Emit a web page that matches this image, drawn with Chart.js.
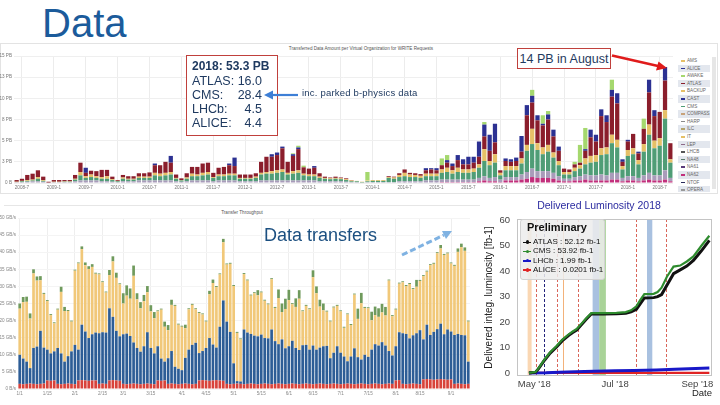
<!DOCTYPE html>
<html><head><meta charset="utf-8"><title>Data</title>
<script src="https://cdn.jsdelivr.net/npm/chart.js"></script>
<style>
html,body{margin:0;padding:0;background:#fff}
body{width:720px;height:405px;overflow:hidden;position:relative;font-family:"Liberation Sans",Arial,sans-serif}
.a{position:absolute;white-space:nowrap}
canvas{position:absolute}
</style></head><body>

<div class="a" style="left:42px;top:3px;font-size:40px;line-height:40px;color:#1b5b9b">Data</div>

<!-- top panel -->
<div class="a" style="left:0;top:43px;width:718px;height:151px;border:1px solid #e3e3e3;box-sizing:border-box"></div>
<div class="a" style="left:0;top:45.5px;width:722px;text-align:center;font-size:4.6px;line-height:5px;color:#555">Transferred Data Amount per Virtual Organization for WRITE Requests</div>
<canvas id="cTop" width="676" height="150" style="left:0;top:42px"></canvas>
<div id="topLegend" class="a" style="left:678px;top:57px;width:34px;height:135px;overflow:hidden"></div>
<div class="a" style="left:712px;top:57px;width:4px;height:132px;background:#e6e6e6"></div>

<!-- annotation box -->
<div class="a" style="left:185.5px;top:55px;width:92px;height:80.5px;border:1px solid #c0403c;box-sizing:border-box;background:#fff"></div>
<div class="a" style="left:192px;top:60px;font-size:12px;line-height:12px;font-weight:bold;color:#1f3a60">2018: 53.3 PB</div>
<div class="a" style="left:192px;top:74.5px;width:70px;display:flex;justify-content:space-between;font-size:12.5px;line-height:12.5px;color:#1f3a60"><span>ATLAS:</span><span>16.0</span></div>
<div class="a" style="left:192px;top:89px;width:70px;display:flex;justify-content:space-between;font-size:12.5px;line-height:12.5px;color:#1f3a60"><span>CMS:</span><span>28.4</span></div>
<div class="a" style="left:192px;top:103px;width:70px;display:flex;justify-content:space-between;font-size:12.5px;line-height:12.5px;color:#1f3a60"><span>LHCb:</span><span>4.5</span></div>
<div class="a" style="left:192px;top:117px;width:70px;display:flex;justify-content:space-between;font-size:12.5px;line-height:12.5px;color:#1f3a60"><span>ALICE:</span><span>4.4</span></div>
<div class="a" style="left:302px;top:88px;font-size:9.5px;line-height:9.5px;letter-spacing:0.2px;color:#1f3a60">inc. parked b-physics data</div>

<div class="a" style="left:517px;top:48px;width:94px;height:21px;border:1px solid #c0403c;box-sizing:border-box;background:#fff"></div>
<div class="a" style="left:517px;top:53px;width:94px;text-align:center;font-size:12.5px;line-height:12.5px;color:#1f3a60">14 PB in August</div>

<!-- bottom-left panel -->
<div class="a" style="left:4px;top:205px;width:476px;height:1px;background:#e6e6e6"></div>
<div class="a" style="left:0;top:210px;width:484px;text-align:center;font-size:4.6px;line-height:5px;color:#555">Transfer Throughput</div>
<canvas id="cBot" width="476" height="195" style="left:0;top:205px"></canvas>
<div class="a" style="left:264px;top:225.5px;font-size:18px;line-height:18px;color:#1b4f80">Data transfers</div>

<!-- luminosity -->
<canvas id="cLum" width="240" height="210" style="left:480px;top:195px"></canvas>
<div class="a" style="left:480px;top:200px;width:238px;text-align:center;font-size:10.5px;line-height:10.5px;color:#2b2ba0">Delivered Luminosity 2018</div>
<div class="a" style="left:520px;top:219px;width:85px;height:61px;background:rgba(236,236,236,0.86);border:1px solid #d2d2d2;border-radius:3px;box-sizing:border-box"></div>
<div class="a" style="left:527px;top:222px;font-size:11px;line-height:11px;font-weight:bold;color:#111">Preliminary</div>
<div id="lumLegend"></div>

<svg class="a" style="left:0;top:0" width="720" height="405" viewBox="0 0 720 405">
  <line x1="298" y1="95" x2="271" y2="95" stroke="#3d7fd6" stroke-width="2.2"/>
  <polygon points="264,95 273,90.5 273,99.5" fill="#3d7fd6"/>
  <line x1="612" y1="55.5" x2="658" y2="66" stroke="#e01b1b" stroke-width="2.5"/>
  <polygon points="667,68 656,70.5 658.5,61.5" fill="#e01b1b"/>
  <line x1="402" y1="255" x2="444" y2="235" stroke="#7fb2e2" stroke-width="3" stroke-dasharray="6,3"/>
  <polygon points="452,231 442,231 446,239" fill="#7fb2e2"/>
</svg>

<script>
// ---------------- TOP CHART DATA (PB per month, 2008-06 .. 2018-09) ----------------
const topStartYear = 2008, topStartMonth = 6, topMonthCount = 124;
const topXTickIdx = [1,7,13,19,25,31,37,43,49,55,61,67,73,79,85,91,97,103,109,115,121];
const topXTickLabels = ['2008-7','2009-1','2009-7','2010-1','2010-7','2011-1','2011-7','2012-1','2012-7','2013-1','2013-7','2014-1','2014-7','2015-1','2015-7','2016-1','2016-7','2017-1','2017-7','2018-1','2018-7'];
const topYTickValues = [0,2.5,5,7.5,10,12.5,15];
const topYTickLabels = ['0 B','3 PB','5 PB','8 PB','10 PB','13 PB','15 PB'];

const topNA62 = [
0,0,0,0,0,0,0,0,0,0, 0,0,0,0,0,0,0,0,0,0, 0,0,0,0,0,0,0,0,0,0, 0,0,0,0,0,0,0,0,0,0,
0,0,0,0,0,0,0,0,0,0, 0,0,0,0,0,0,0,0,0,0, 0,0,0,0,0,0,0,0,0,0, 0,0,0,0,0,0,0,0,0,0,
.1,.1,.1,.1,.1,.1,.1,.2,.3,.2, .2,.1,.3,.3,.3,.4,.5,.7,.6,.6, .6,.5,.3,.2,.2,.3,.3,.4,.3,.3,
.3,.3,.4,.4,.2,.3,.3,.2,.3,.4, .3,.3,.4,.2];
const topOther = [
.1,.1,.15,.2,.2,.15,.05,.1,.1,.1, .1,.2,.3,.3,.3,.3,.2,.2,.15,.1, .2,.2,.2,.3,.3,.3,.3,.3,.3,.3,
.2,.15,.2,.3,.3,.3,.3,.2,.3,.3, .3,.3,.2,.2,.2,.2,.3,.3,.3,.3, .3,.3,.3,.3,.3,.3,.3,.2,.2,.2,
.2,.2,.15,.1,.1,.05,.1,.1,.1,.1, .1,.1,.2,.2,.2,.2,.2,.3,.3,.3, .3,.3,.3,.3,.3,.3,.3,.4,.5,.4,
.5,.3,.4,.4,.4,.6,.8,1.0,.8,.8, .8,.7,.5,.3,.3,.4,.5,.6,.6,.6, .7,.6,.8,.8,.4,.5,.5,.4,.6,.8,
.6,.6,1.1,.4];
const topCMS = [
0,.1,.1,.1,.3,.1,0,0,0,.05, .05,.2,.6,.3,.4,.3,.3,.3,.2,.1, .3,.2,.2,.3,.3,.3,.6,.5,.6,.7,
.3,.15,.3,.5,.5,.6,.7,.4,.5,.5, .6,.6,.3,.3,.3,.4,.7,.8,.8,.9, 1.0,.7,.8,.9,.6,.5,.5,.4,.3,.25,
.3,.25,.2,.1,.1,.05,.1,.15,.15,.15, .5,.4,.5,.6,.5,.5,.4,.5,.5,.5, .8,.9,.7,.9,.8,.8,.9,1.2,1.8,1.5,
1.7,.5,.8,.8,.8,1.3,2.5,2.9,2.5,2.0, 2.3,1.8,1.3,.5,.5,.7,.9,1.2,1.5,1.6, 2.3,2.5,3.5,3.0,1.0,2.4,2.6,1.6,2.8,4.5,
3.2,3.5,6.1,1.8];
const topAMS = [
.05,.05,.1,.1,.2,.1,0,.05,.05,.05, .05,.1,.4,.2,.3,.2,.2,.3,.1,.05, .15,.1,.1,.15,.15,.15,.3,.3,.3,.3,
.1,.05,.15,.3,.2,.3,.3,.1,.2,.2, .2,.2,.1,.1,.1,.15,.2,.2,.3,.3, .3,.2,.3,.3,.2,.2,.2,.15,.1,.1,
.1,.1,.1,.1,.05,.05,.1,.1,.1,.1, .1,.15,.25,.4,.3,.25,.25,.3,.3,.3, .4,.5,.4,.5,.4,.4,.4,.4,1.4,.5,
1.0,.3,.5,.5,.5,.6,.7,1.8,.8,.8, .8,.6,.5,.3,.3,.4,.4,.7,.8,.8, .8,.8,1.0,.9,.4,.7,.7,.5,.9,1.2,
.9,.9,1.0,.4];
const topATLAS = [
.2,.25,.6,.7,.8,.4,.1,.2,.2,.15, .15,.45,1.1,.4,.45,.6,.85,.75,.3,.1, .3,.3,.3,.4,.4,.5,.9,1.0,1.3,1.1,
.4,.2,.5,.8,.9,1.1,1.1,.5,.8,.9, 1.0,.9,.4,.4,.4,.4,1.3,1.8,1.7,1.8, 2.5,1.3,1.8,2.5,.75,.7,.8,.4,.15,.1,
.15,.1,.1,.05,0,0,0,0,0,0, .1,.1,.2,.4,.2,.2,.2,.4,.5,.4, .5,.6,.5,.9,.6,.6,.7,.9,1.5,1.2,
1.4,.3,.6,.5,.6,.8,3.5,3.1,2.7,2.6, 3.0,1.9,1.2,.4,.3,.4,.3,.9,2.2,1.6, 3.8,3.0,4.5,4.3,.5,1.0,1.7,.8,1.8,3.8,
2.9,3.1,3.5,1.9];
const topALICE = [
0,0,0,0,0,0,0,0,0,0, 0,0,0,.6,0,0,0,0,0,0, 0,0,0,0,0,0,.2,0,0,.8,
0,0,0,0,0,0,0,0,0,0, .2,1.0,0,0,0,0,0,0,.3,.3, .2,0,.2,.2,0,0,.2,0,0,0,
0,0,0,0,0,0,0,0,0,0, 0,0,0,0,0,0,0,.25,.15,.25, 0,.3,.3,.6,.6,.9,.7,1.8,1.4,1.9,
2.2,0,.3,.3,.4,1.85,1.2,.8,.6,.2, .6,.8,.5,0,0,0,0,.2,.9,.8, .8,.8,.8,1.2,.3,.2,0,.2,0,1.5,
.7,0,1.6,0];
const topLHCb = [
0,0,0,0,0,0,0,0,0,0, 0,0,0,0,0,0,0,0,0,0, 0,0,0,0,0,0,0,0,0,0,
0,0,0,0,0,0,0,0,0,0, 0,0,0,0,0,0,0,0,0,0, 0,0,.1,.2,.2,0,0,0,0,0,
0,0,0,0,0,0,1.0,0,0,0, 0,0,0,0,0,0,0,0,0,0, .8,.6,0,0,0,0,0,0,.3,0,
0,0,0,0,0,0,0,.7,0,1.0, .4,0,0,0,0,.3,2.1,2.5,0,0, 0,0,1.2,0,0,0,0,0,1.2,0,
0,0,0,0];
const topLegendNames = ['AMS','ALICE','AWAKE','ATLAS','BACKUP','CAST','CMS','COMPASS','HARP','ILC','IT','LEP','LHCB','NA48','NA61','NA62','NTOF','OPERA'];
const topLegendColors = ['#e6c067','#2c3192','#a5d86e','#8b1e2c','#e6c067','#2c3192','#4f9d76','#c8a27a','#8a8a8a','#b5a36a','#e6c067','#8e6a8a','#555555','#5a7a6a','#5a3a7a','#c2307c','#2a2a5a','#999999'];

// ---------------- BOTTOM-LEFT CHART DATA (GB/s) ----------------
const botXTickIdx = [0,8,16,24,30,38,47,54,62,70,78,85,93,101,109,116,125];
const botXTickLabels = ['1/1','1/15','2/1','2/15','3/1','3/15','4/1','4/15','5/1','5/15','6/1','6/15','7/1','7/15','8/1','8/15','9/1'];
const botYTickLabels = ['0 B/s','5 GB/s','10 GB/s','15 GB/s','20 GB/s','25 GB/s','30 GB/s','35 GB/s','40 GB/s','45 GB/s','50 GB/s'];
const botRed = [
1.5,1.4,1.5,1.6,1.5,1.4,1.5,1.6,2.5,2.4, 2.5,1.5,1.4,1.5,1.6,1.5,1.4,2.5,2.6,2.5, 2.4,2.5,2.5,1.5,1.6,1.5,2.5,2.6,2.5,2.4,
1.5,1.4,1.5,1.6,1.5,1.4,1.5,1.6,1.5,1.4, 2.5,2.4,2.5,1.5,1.6,1.5,1.4,1.5,1.6,1.5, 1.4,1.5,2.5,2.6,2.5,2.4,2.5,2.6,2.5,2.4,
1.5,1.4,1.5,1.6,1.5,1.4,1.5,1.6,1.5,1.4, 1.5,1.6,1.5,1.4,1.5,1.6,1.5,1.4,1.5,1.6, 1.5,1.4,1.5,1.6,1.5,1.4,1.5,1.6,1.5,1.4,
1.5,1.6,1.5,1.4,1.5,1.6,1.5,1.4,1.5,1.6, 1.5,1.4,1.5,1.6,1.5,1.4,1.5,1.6,1.5,2.5, 2.6,1.5,1.4,1.5,1.6,1.5,1.4,2.8,2.9,2.8,
2.7,2.8,2.9,2.8,2.7,2.8,1.5,1.6,1.5,1.4, 1.5];
const botBlue = [
8.5,7.5,6.5,4.5,10.5,11,15.5,10.5,9,8, 8.5,10.5,9,6.5,8,9.5,11.5,9,16.2,14.3, 12.5,13.5,14,14.8,15,15,21.1,18.5,14.5,13,
14.5,14.8,14,12,10.5,9.5,11,15,10.5,9, 10,6.5,5.5,7.5,9.5,5,4.5,4,7.5,10, 11.5,12,8,8.5,9.5,12.5,10.5,9.5,15.7,23.5,
18.2,15.3,6,0.7,0.7,16,15,14.5,14.1,14, 14.4,13.3,13.3,16,12.5,11.5,13,10.5,11,12.5, 10.5,10,11.3,11.3,10,11.3,10,10.5,11,11.2,
7.5,9,11,9.2,8,6.5,8,10.5,7.8,7, 8.5,8,10,11.5,11.2,12.3,11.2,9.5,8.3,10, 14,14.8,14.7,13.3,14.1,14.8,15.8,11.7,15.9,13,
14,14.7,16.2,13.2,14.7,14,14.3,14.5,14.3,14.3, 6.5];
const botYellow = [
13.5,16.5,17.5,14.5,21.8,19.3,14.8,15.7,14.2,11.2, 8.2,11.2,18,14.8,13.2,8.7,21.7,25.2,22.1,19.4, 20.2,19.7,17.2,17.2,14.6,11.7,9.7,16.2,15.5,15.2,
9,11.1,10.9,19.5,14.2,12.7,13.2,11.7,10.7,10.3, 10.2,14.3,10.2,8.2,13.5,17.8,12.9,12.7,8.7,11.8, 11.7,9.8,11.7,10.7,7.7,12.8,18,17.7,15.3,17,
16.7,19.9,22.6,14.1,12.3,16.2,15.2,11.2,12.4,12, 12.3,10.9,9.9,14.7,9.7,13.5,8,11.5,13.5,10.7, 12,15,9.9,11.4,11.8,20,16.5,12,10.5,10,
10.7,13.2,11.8,12.1,8.4,13.7,9.2,15.7,11.2,16.5, 13.7,14.2,8.6,8.5,8.4,8.7,8.8,20.6,11.5,10.7, 14.2,14.9,14,15.9,13.5,13.6,14.4,18.5,15.5,20.4,
19.9,22.2,22,23.2,22.2,19.9,20.2,24,25.7,24.7, 11.7];
const botGreen = [
1.5,1.5,1.5,1.5,1.2,1.2,1.2,.3,.3,.3, .3,.3,1.5,1.2,.3,.3,.3,.3,.8,.8, .8,.8,.3,.3,.3,.3,1.5,1.5,1.5,.3,
3,3,3,3,1.8,1.8,1.8,1.8,1.8,1.8, .3,.3,1.5,1.5,1.5,.3,.3,.3,1,.3, .3,.3,.3,.3,.3,1,1,.3,.3,1,
.3,.3,.3,.3,.3,.3,.3,.3,.3,1.5, .3,.3,.3,.3,.3,2.5,2.5,3,3,.3, 2.5,2.5,.3,.3,.3,2,2,2,2,.3,
.3,.3,.3,.3,.3,.3,.3,.3,3,3, .3,.3,2.5,2.5,2.5,2.5,2.5,.3,.3,.3, .3,.3,.3,.3,.3,2,.3,.3,.3,.3,
.3,.3,1,.3,.3,.3,.3,1,1,1, .3];

// ---------------- LUMINOSITY DATA (fb-1, 2018) ----------------
const lumDates = ['04-27','05-02','05-04','05-09','05-13','05-18','05-22','05-27','05-30','06-02','06-05','06-09','06-13','06-22','07-02','07-09','07-13','07-17','07-20','07-23','07-30','08-02','08-05','08-09','08-14','08-19','08-24','08-29','09-04','09-10'];
const lumATLAS = [0,0.3,1.5,5.2,7.8,10.3,12.6,14.8,15.9,16.8,18.6,21.0,23.2,23.2,23.3,23.5,24.0,25.0,27.2,29.5,29.6,30.0,30.8,34.5,39.0,40.5,42.0,44.2,48.0,52.1];
const lumCMS = [0,0.4,1.7,5.5,8.1,10.7,13.0,15.2,16.3,17.3,19.0,21.4,23.5,23.5,23.6,23.9,24.6,26.2,28.7,31.0,31.1,31.8,33.5,37.8,41.8,42.2,43.8,45.8,50.0,53.9];
const lumSmallDates = ['04-27','05-10','05-20','06-01','06-15','07-01','07-15','08-01','08-15','09-10'];
const lumLHCb = [0,0.1,0.3,0.5,0.7,0.85,1.0,1.2,1.5,1.99];
const lumALICE = [0,0.001,0.002,0.004,0.006,0.008,0.01,0.013,0.016,0.0201];
const lumXTickDates = ['05-01','07-01','09-01'];
const lumXTickLabels = ["May '18","Jul '18","Sep '18"];
const lumYTicks = [0,10,20,30,40,50,60];
const lumBandStart = ['04-26','06-14','06-19','07-25'];
const lumBandEnd = ['04-29','06-19','06-24','07-29'];
const lumDashedLines = ['05-02','05-08','05-18','06-03','07-17','08-08'];
const lumSolidLines = ['05-23'];
const lumLegendLabels = ['ATLAS : 52.12 fb-1','CMS : 53.92 fb-1','LHCb : 1.99 fb-1','ALICE : 0.0201 fb-1'];

// ================= drawing =================
Chart.defaults.font.family = '"Liberation Sans", Arial, sans-serif';
Chart.defaults.animation = false;

const topMonths = [];
for (let i = 0; i < topMonthCount; i++) {
  const m0 = topStartMonth - 1 + i;
  topMonths.push((topStartYear + Math.floor(m0 / 12)) + '-' + (m0 % 12 + 1));
}
const topSeries = [
  ['NA62', topNA62, '#c2307c'], ['Other', topOther, '#a99cba'], ['CMS', topCMS, '#4f9d76'],
  ['AMS', topAMS, '#e6c067'], ['ATLAS', topATLAS, '#8b1e2c'], ['ALICE', topALICE, '#2c3192'], ['LHCb', topLHCb, '#a5d86e']
];
new Chart(document.getElementById('cTop'), {
  type: 'bar',
  data: { labels: topMonths, datasets: topSeries.map(s => ({ label: s[0], data: s[1], backgroundColor: s[2], barPercentage: 0.8, categoryPercentage: 1 })) },
  options: {
    responsive: false, devicePixelRatio: 1,
    layout: { padding: { top: 14, right: 3, left: 0, bottom: 0 } },
    plugins: { legend: { display: false }, tooltip: { enabled: false } },
    scales: {
      x: { stacked: true, offset: true,
        grid: { offset: false, drawTicks: false, color: c => topXTickIdx.includes(c.index) ? '#ececec' : 'rgba(0,0,0,0)' },
        border: { display: false },
        ticks: { autoSkip: false, maxRotation: 0, minRotation: 0, padding: 2, font: { size: 4.6 }, color: '#777',
          callback: (v, i) => { const k = topXTickIdx.indexOf(i); return k >= 0 ? topXTickLabels[k] : ''; } },
        afterFit: s => { s.height = 9; } },
      y: { stacked: true, min: 0, max: 15,
        afterBuildTicks: s => { s.ticks = topYTickValues.map(v => ({ value: v })); },
        grid: { drawTicks: false, color: '#efefef' }, border: { display: false },
        ticks: { padding: 2, font: { size: 4.6 }, color: '#777', callback: v => topYTickLabels[topYTickValues.indexOf(v)] },
        afterFit: s => { s.width = 14; } }
    }
  }
});

(function () {
  const box = document.getElementById('topLegend');
  let html = '';
  topLegendNames.forEach((n, i) => {
    const bg = i % 2 === 1 ? 'background:#e3e7ee;' : '';
    html += '<div style="position:absolute;left:0;top:' + (i * 7.6) + 'px;width:32px;height:7.6px;' + bg + '">' +
      '<div style="position:absolute;left:3px;top:3px;width:4px;height:1.6px;background:' + topLegendColors[i] + '"></div>' +
      '<div style="position:absolute;left:9px;top:0;font-size:4.6px;line-height:7.6px;color:#666;white-space:nowrap">' + n + '</div></div>';
  });
  box.innerHTML = html;
})();

const botCats = botRed.map((_, i) => 'd' + i);
new Chart(document.getElementById('cBot'), {
  type: 'bar',
  data: { labels: botCats, datasets: [
    { label: 'Red', data: botRed, backgroundColor: '#d8423a' },
    { label: 'Blue', data: botBlue, backgroundColor: '#2d5d96' },
    { label: 'Yellow', data: botYellow, backgroundColor: '#f1c879' },
    { label: 'Green', data: botGreen, backgroundColor: '#6f9a5c' }
  ].map(d => Object.assign(d, { barPercentage: 0.78, categoryPercentage: 1 })) },
  options: {
    responsive: false, devicePixelRatio: 1,
    layout: { padding: { top: 13, right: 6, left: 0, bottom: 0 } },
    plugins: { legend: { display: false }, tooltip: { enabled: false } },
    scales: {
      x: { stacked: true, offset: true,
        grid: { offset: false, drawTicks: false, color: c => botXTickIdx.includes(c.index) ? '#eeeeee' : 'rgba(0,0,0,0)' },
        border: { display: false },
        ticks: { autoSkip: false, maxRotation: 0, minRotation: 0, padding: 2, font: { size: 4.6 }, color: '#888',
          callback: (v, i) => { const k = botXTickIdx.indexOf(i); return k >= 0 ? botXTickLabels[k] : ''; } },
        afterFit: s => { s.height = 11; } },
      y: { stacked: true, min: 0, max: 50,
        ticks: { stepSize: 5, padding: 2, font: { size: 4.6 }, color: '#888', callback: v => botYTickLabels[Math.round(v / 5)] },
        grid: { drawTicks: false, color: '#f4f4f4' }, border: { display: false },
        afterFit: s => { s.width = 18; } }
    }
  }
});

function dayNum(s) {
  const p = s.split('-').map(Number);
  return Math.round((Date.UTC(2018, p[0] - 1, p[1]) - Date.UTC(2018, 0, 1)) / 86400000) + 1;
}
const lumXTickValues = lumXTickDates.map(dayNum);
const lumMarks = {
  id: 'lumMarks',
  beforeDatasetsDraw(chart) {
    const { ctx, chartArea: a, scales: { x } } = chart;
    ctx.save();
    ctx.beginPath(); ctx.rect(a.left, a.top, a.right - a.left, a.bottom - a.top); ctx.clip();
    const bandColors = ['rgba(247,188,128,0.6)', 'rgba(140,172,214,0.75)', 'rgba(140,196,118,0.75)', 'rgba(140,172,214,0.75)'];
    lumBandStart.forEach((d, i) => {
      const x0 = x.getPixelForValue(dayNum(d)), x1 = x.getPixelForValue(dayNum(lumBandEnd[i]));
      ctx.fillStyle = bandColors[i];
      ctx.fillRect(x0, a.top, x1 - x0, a.bottom - a.top);
    });
    ctx.lineWidth = 1;
    lumDashedLines.forEach((d, i) => {
      const px = Math.round(x.getPixelForValue(dayNum(d))) + 0.5;
      ctx.strokeStyle = i === 1 ? '#22227a' : '#d9665a';
      ctx.setLineDash([3, 2]);
      ctx.beginPath(); ctx.moveTo(px, a.top); ctx.lineTo(px, a.bottom); ctx.stroke();
    });
    ctx.setLineDash([]);
    lumSolidLines.forEach(d => {
      const px = Math.round(x.getPixelForValue(dayNum(d))) + 0.5;
      ctx.strokeStyle = '#f3b27a';
      ctx.beginPath(); ctx.moveTo(px, a.top); ctx.lineTo(px, a.bottom); ctx.stroke();
    });
    ctx.restore();
  },
  afterDraw(chart) {
    const { ctx, chartArea: a } = chart;
    ctx.save();
    ctx.strokeStyle = '#c4c4c4'; ctx.lineWidth = 1;
    ctx.strokeRect(a.left + 0.5, a.top + 0.5, a.right - a.left - 1, a.bottom - a.top - 1);
    ctx.restore();
  }
};
new Chart(document.getElementById('cLum'), {
  type: 'line',
  data: { datasets: [
    { label: 'CMS', data: lumDates.map((d, i) => ({ x: dayNum(d), y: lumCMS[i] })), borderColor: '#2e8b2e', borderWidth: 2.2, pointRadius: 0, order: 0 },
    { label: 'ATLAS', data: lumDates.map((d, i) => ({ x: dayNum(d), y: lumATLAS[i] })), borderColor: '#111111', borderWidth: 3, pointRadius: 0, order: 1 },
    { label: 'LHCb', data: lumSmallDates.map((d, i) => ({ x: dayNum(d), y: lumLHCb[i] })), borderColor: '#1818c8', borderWidth: 3, pointRadius: 0, order: 2 },
    { label: 'ALICE', data: lumSmallDates.map((d, i) => ({ x: dayNum(d), y: lumALICE[i] })), borderColor: '#e02424', borderWidth: 2.2, pointRadius: 0, order: 3 }
  ] },
  options: {
    responsive: false, devicePixelRatio: 1,
    layout: { padding: { top: 24, right: 8, left: 0, bottom: 0 } },
    plugins: { legend: { display: false }, tooltip: { enabled: false } },
    scales: {
      x: { type: 'linear', min: dayNum('04-18'), max: dayNum('09-12'),
        afterBuildTicks: s => { s.ticks = lumXTickValues.map(v => ({ value: v })); },
        grid: { display: false, drawTicks: false }, border: { display: false },
        ticks: { autoSkip: false, maxRotation: 0, padding: 3, font: { size: 9.5 }, color: '#444',
          callback: v => lumXTickLabels[lumXTickValues.indexOf(v)] },
        title: { display: true, text: 'Date', align: 'end', font: { size: 9.5 }, color: '#222', padding: { top: 0, bottom: 6 } },
        afterFit: s => { s.height = 29; } },
      y: { min: -1.2, max: 60.5,
        afterBuildTicks: s => { s.ticks = lumYTicks.map(v => ({ value: v })); },
        grid: { display: false, drawTicks: false }, border: { display: false },
        ticks: { padding: 7, font: { size: 9.5 }, color: '#444' },
        title: { display: true, text: 'Delivered integ. luminosity [fb-1]', font: { size: 10 }, color: '#222', padding: { top: 3, bottom: 0 } },
        afterFit: s => { s.width = 37; } }
    }
  },
  plugins: [lumMarks]
});

(function () {
  const colors = ['#111111', '#2e8b2e', '#1818c8', '#e02424'];
  let html = '';
  lumLegendLabels.forEach((t, i) => {
    const top = 238 + i * 9.3;
    html += '<div class="a" style="left:523px;top:' + (top + 3.5) + 'px;width:8px;height:1.5px;background:' + colors[i] + '"></div>' +
      '<div class="a" style="left:525.5px;top:' + (top + 2.2) + 'px;width:3.5px;height:3.5px;border-radius:50%;background:' + colors[i] + '"></div>' +
      '<div class="a" style="left:533px;top:' + top + 'px;font-size:8px;line-height:8px;color:#111">' + t + '</div>';
  });
  document.getElementById('lumLegend').innerHTML = html;
})();
</script>
</body></html>
